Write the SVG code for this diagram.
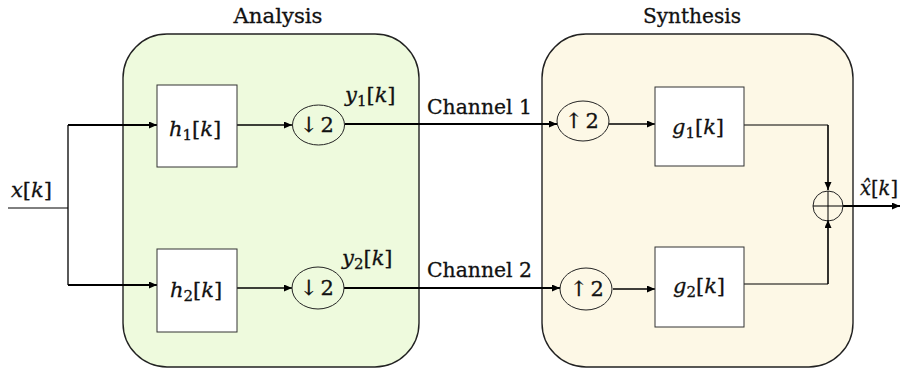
<svg xmlns="http://www.w3.org/2000/svg" width="900" height="369" viewBox="0 0 900 369">
<defs>
<style>
.panel{stroke:#222;stroke-width:1.4}
.blk{fill:#fff;stroke:#333;stroke-width:1}
.op{fill:none;stroke:#222;stroke-width:1}
.w{fill:none;stroke:#000}
.t{font-family:'DejaVu Serif','Liberation Serif',serif;font-size:20px;fill:#111;stroke:#111;stroke-width:0.3}
.m{font-family:'DejaVu Serif','Liberation Serif',serif;font-size:21px;fill:#111;stroke:#111;stroke-width:0.3}
.i{font-style:italic}
.s{font-size:15px}
</style>
<marker id="ar" markerUnits="userSpaceOnUse" markerWidth="9" markerHeight="8" refX="8" refY="3.5" orient="auto">
<path d="M0,0 L8,3.5 L0,7 Z" fill="#000"/>
</marker>
</defs>
<rect width="900" height="369" fill="#fff"/>

<g id="analysis">
<rect class="panel" x="123" y="34" width="296" height="333" rx="44" fill="#eefadd"/>
<text class="t" x="278" y="23" text-anchor="middle" textLength="89" lengthAdjust="spacingAndGlyphs">Analysis</text>
</g>
<g id="synthesis">
<rect class="panel" x="542" y="34" width="311" height="333" rx="44" fill="#fdf8e6"/>
<text class="t" x="692" y="23" text-anchor="middle" textLength="98" lengthAdjust="spacingAndGlyphs">Synthesis</text>
</g>

<g id="connectors">
<path class="w" stroke-width="1" d="M8,208 H68"/>
<path class="w" stroke-width="1.3" d="M68,125 V285"/>
<path class="w" stroke-width="2" d="M68,125 H157" marker-end="url(#ar)"/>
<path class="w" stroke-width="2" d="M68,285 H157" marker-end="url(#ar)"/>
<path class="w" stroke-width="1.5" d="M237,125 H292" marker-end="url(#ar)"/>
<path class="w" stroke-width="1.5" d="M237,288 H292" marker-end="url(#ar)"/>
<path class="w" stroke-width="2" d="M345,124 H557" marker-end="url(#ar)"/>
<path class="w" stroke-width="2" d="M344,288 H560" marker-end="url(#ar)"/>
<path class="w" stroke-width="1.5" d="M609,124 H655" marker-end="url(#ar)"/>
<path class="w" stroke-width="1.5" d="M613,289 H655" marker-end="url(#ar)"/>
<path class="w" stroke-width="1" d="M744,125 H828"/>
<path class="w" stroke-width="1.6" d="M828,125 V190" marker-end="url(#ar)"/>
<path class="w" stroke-width="1" d="M744,284 H828"/>
<path class="w" stroke-width="1.6" d="M828,284 V220" marker-end="url(#ar)"/>
<path class="w" stroke-width="2" d="M843,206 H900" marker-end="url(#ar)"/>
</g>

<g id="input">
<text class="m" x="11" y="197"><tspan class="i">x</tspan>[<tspan class="i">k</tspan>]</text>
</g>

<g id="h1">
<rect class="blk" x="157" y="85" width="80" height="82"/>
<text class="m" x="195" y="136" text-anchor="middle"><tspan class="i">h</tspan><tspan class="s" dy="4">1</tspan><tspan dy="-4">[</tspan><tspan class="i">k</tspan>]</text>
</g>
<g id="h2">
<rect class="blk" x="157" y="249" width="80" height="83"/>
<text class="m" x="196" y="297" text-anchor="middle"><tspan class="i">h</tspan><tspan class="s" dy="4">2</tspan><tspan dy="-4">[</tspan><tspan class="i">k</tspan>]</text>
</g>

<g id="down1">
<ellipse class="op" cx="318.5" cy="125" rx="26" ry="20"/>
<text class="m" x="317" y="132" text-anchor="middle">↓<tspan dx="3">2</tspan></text>
</g>
<g id="down2">
<ellipse class="op" cx="318" cy="288" rx="26" ry="21"/>
<text class="m" x="317" y="295" text-anchor="middle">↓<tspan dx="3">2</tspan></text>
</g>

<g id="y1">
<text class="m" x="345" y="102"><tspan class="i">y</tspan><tspan class="s" dy="4">1</tspan><tspan dy="-4">[</tspan><tspan class="i">k</tspan>]</text>
</g>
<g id="y2">
<text class="m" x="342" y="265"><tspan class="i">y</tspan><tspan class="s" dy="4">2</tspan><tspan dy="-4">[</tspan><tspan class="i">k</tspan>]</text>
</g>

<g id="channel1">
<text class="t" x="427" y="114" textLength="105" lengthAdjust="spacingAndGlyphs">Channel 1</text>
</g>
<g id="channel2">
<text class="t" x="427" y="277" textLength="105" lengthAdjust="spacingAndGlyphs">Channel 2</text>
</g>

<g id="up1">
<ellipse class="op" cx="583" cy="121" rx="26" ry="20"/>
<text class="m" x="582" y="128" text-anchor="middle">↑<tspan dx="3">2</tspan></text>
</g>
<g id="up2">
<ellipse class="op" cx="586" cy="289" rx="26" ry="21"/>
<text class="m" x="587" y="296" text-anchor="middle">↑<tspan dx="3">2</tspan></text>
</g>

<g id="g1">
<rect class="blk" x="655" y="87" width="89" height="79"/>
<text class="m" x="698" y="134" text-anchor="middle"><tspan class="i">g</tspan><tspan class="s" dy="4">1</tspan><tspan dy="-4">[</tspan><tspan class="i">k</tspan>]</text>
</g>
<g id="g2">
<rect class="blk" x="655" y="247" width="89" height="80"/>
<text class="m" x="699" y="293" text-anchor="middle"><tspan class="i">g</tspan><tspan class="s" dy="4">2</tspan><tspan dy="-4">[</tspan><tspan class="i">k</tspan>]</text>
</g>

<g id="sum">
<circle class="op" cx="828" cy="206" r="15"/>
<path class="w" stroke-width="1" d="M813,206 H843 M828,191 V221"/>
</g>

<g id="output">
<text class="m" x="860" y="195" textLength="38" lengthAdjust="spacingAndGlyphs"><tspan class="i">x̂</tspan>[<tspan class="i">k</tspan>]</text>
</g>
</svg>
